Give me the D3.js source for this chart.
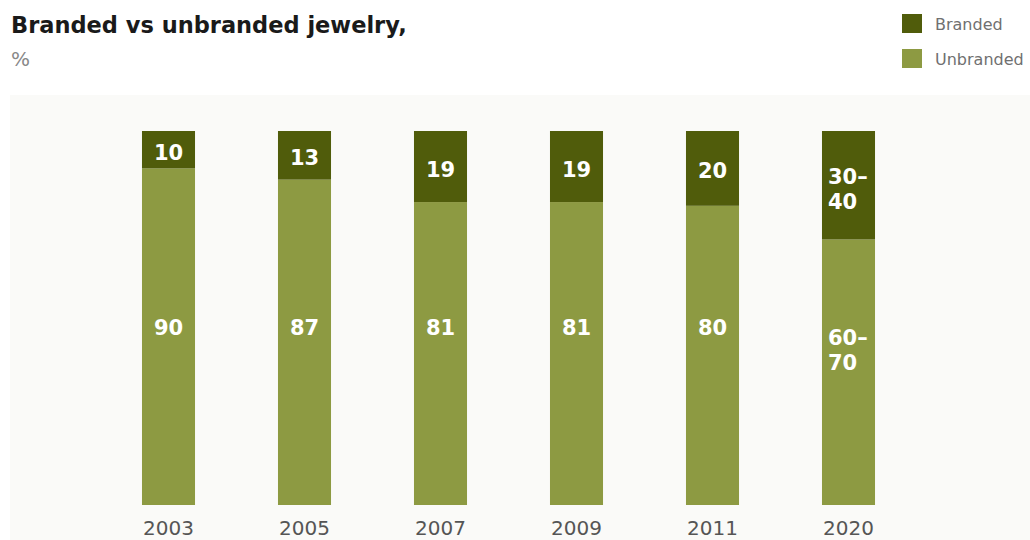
<!DOCTYPE html>
<html><head><meta charset="utf-8">
<script src="https://cdn.jsdelivr.net/npm/d3@7"></script>
<style>
html,body{margin:0;padding:0;background:#fff;}
svg{display:block;}
text{font-family:"DejaVu Sans",sans-serif;}
</style></head>
<body>
<svg id="chart" width="1030" height="540"></svg>
<script>
const years = ["2003","2005","2007","2009","2011","2020"];
const branded = [10,13,19,19,20,29];
const unbranded = [90,87,81,81,80,71];
const brandedLabels = [["10"],["13"],["19"],["19"],["20"],["30–","40"]];
const unbrandedLabels = [["90"],["87"],["81"],["81"],["80"],["60–","70"]];
const seriesNames = ["Branded","Unbranded"];
const colors = {Branded:"#505c0b", Unbranded:"#8d9a42"};

const svg = d3.select("#chart");
svg.append("rect").attr("x",10).attr("y",95).attr("width",1020).attr("height",445).attr("fill","#fafaf8");

const x = d3.scaleBand().domain(years).range([100.5,916.5]).paddingInner(0.61).paddingOuter(0.305);
const y = d3.scaleLinear().domain([0,100]).range([505,131]);

const g = svg.append("g");
years.forEach((yr,i)=>{
  const x0 = x(yr), w = x.bandwidth();
  g.append("rect").attr("x",x0).attr("width",w)
    .attr("y",y(unbranded[i])).attr("height",y(0)-y(unbranded[i])).attr("fill",colors.Unbranded);
  g.append("rect").attr("x",x0).attr("width",w)
    .attr("y",y(unbranded[i]+branded[i])).attr("height",y(unbranded[i])-y(unbranded[i]+branded[i])).attr("fill",colors.Branded);
  const multi = brandedLabels[i].length>1;
  const cx = x0 + w/2;
  const bMid = (y(unbranded[i]+branded[i]) + y(unbranded[i]))/2;
  const bl = g.append("text").attr("fill","#fff").attr("font-weight","bold").attr("font-size",21)
    .attr("text-anchor", multi?"start":"middle");
  brandedLabels[i].forEach((t,k)=>{
    bl.append("tspan").attr("x", multi? x0+6 : cx)
      .attr("y", multi ? bMid - 1 + k*25 : bMid + 10).text(t);
  });
  const ul = g.append("text").attr("fill","#fff").attr("font-weight","bold").attr("font-size",21)
    .attr("text-anchor", multi?"start":"middle");
  unbrandedLabels[i].forEach((t,k)=>{
    ul.append("tspan").attr("x", multi? x0+6 : cx)
      .attr("y", multi ? 345 + k*25 : 335).text(t);
  });
});

const xAxis = d3.axisBottom(x).tickSize(0).tickPadding(0);
const ax = svg.append("g").attr("transform","translate(0,519)").call(xAxis);
ax.select(".domain").remove();
ax.selectAll("text").attr("font-size",20).attr("fill","#555").attr("dy","0.8em")
  .attr("font-family","DejaVu Sans, sans-serif");

svg.append("text").attr("x",11).attr("y",33).attr("font-size",22.5).attr("font-weight","bold")
  .attr("fill","#1a1a1a").text("Branded vs unbranded jewelry,");
svg.append("text").attr("x",11).attr("y",66).attr("font-size",20).attr("fill","#888").text("%");

const lg = svg.append("g");
seriesNames.forEach((s,i)=>{
  lg.append("rect").attr("x",902).attr("y",14+i*35).attr("width",20).attr("height",19).attr("fill",colors[s]);
  lg.append("text").attr("x",935).attr("y",30+i*35).attr("font-size",16).attr("fill","#707070").text(s);
});
</script>
</body></html>
